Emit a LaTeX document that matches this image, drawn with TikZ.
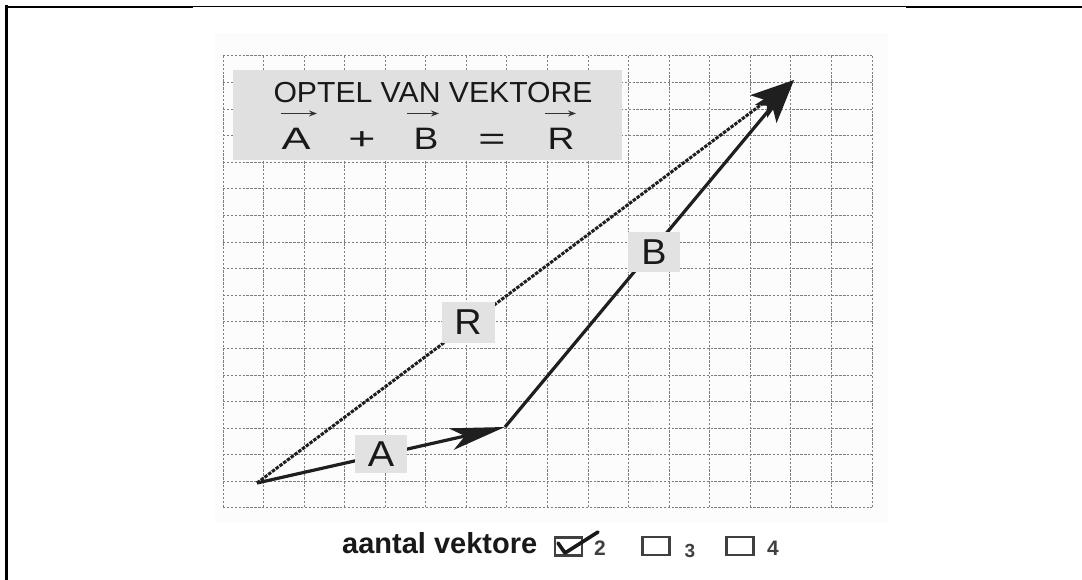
\documentclass[tikz,border=0pt]{standalone}
\usepackage{fontspec}
\setmainfont{Liberation Sans}
\usepackage{graphicx}
\usetikzlibrary{arrows.meta,calc}
\definecolor{boxgray}{HTML}{E2E2E2}
\definecolor{titlegray}{HTML}{E0E0E0}
\definecolor{gridgray}{HTML}{7E7E7E}
\definecolor{panel}{HTML}{FCFCFC}
\tikzset{
  gridline/.style={gridgray, line width=1pt, dash pattern=on 2.4pt off 1.5pt},
  vecline/.style={black!88, line width=3.2pt},
  rline/.style={black!88, line width=3pt, dash pattern=on 3.5pt off 1.2pt},
  lbl/.style={fill=boxgray, inner sep=0pt, font=\fontsize{36}{38}\selectfont, text=black!90},
  eqtxt/.style={inner sep=0pt, anchor=base, font=\fontsize{31}{34}\selectfont, text=black!90},
  ovarrow/.style={black!80, line width=1.6pt, -{Stealth[length=8pt,width=6pt]}},
  cbox/.style={draw=black!75, line width=2.6pt, minimum width=27pt, minimum height=18pt, inner sep=0pt},
  digit/.style={inner sep=0pt, text=black!75, font=\bfseries\fontsize{21}{23}\selectfont}
}
\begin{document}
\begin{tikzpicture}[x=1pt,y=-1pt]
\path[use as bounding box] (0,0) rectangle (1082,580);
% frame
\draw[line width=2.5pt] (6.5,5.5) -- (6.5,580);
\draw[line width=2.5pt] (5.3,7) -- (193,7);
\draw[line width=1pt] (193,6.5) -- (906,6.5);
\draw[line width=2.5pt] (906,7) -- (1082,7);
% faint panel
\fill[panel] (215,33) rectangle (888,523);
% grid
\foreach \i in {0,...,16} {
  \draw[gridline] ({223+40.5625*\i},56) -- ({223+40.5625*\i},508);
}
\foreach \j in {0,...,17} {
  \draw[gridline] (223,{56+26.588*\j}) -- (872,{56+26.588*\j});
}
% title box
\node[fill=titlegray, minimum width=389pt, minimum height=90pt, inner sep=0pt] (title) at (427.5,115) {};
\node[inner sep=0pt, anchor=base, font=\fontsize{29}{32}\selectfont, text=black!90] (ttl) at (433,103) {\scalebox{1.04}[1]{OPTEL VAN VEKTORE}};
\node[eqtxt] (eA) at (296,150) {\scalebox{1.4}[1]{A}};
\node[eqtxt] (ePlus) at (362,150) {\scalebox{1.5}[1]{+}};
\node[eqtxt] (eB) at (426,150) {\scalebox{1.2}[1]{B}};
\node[eqtxt] (eEq) at (492,150) {\scalebox{1.5}[1]{=}};
\node[eqtxt] (eR) at (561,150) {\scalebox{1.2}[1]{R}};
\draw[ovarrow] ([xshift=-15pt,yshift=15pt]eA.north) -- ([xshift=21pt,yshift=15pt]eA.north);
\draw[ovarrow] ([xshift=-19pt,yshift=15pt]eB.north) -- ([xshift=13pt,yshift=15pt]eB.north);
\draw[ovarrow] ([xshift=-16pt,yshift=15pt]eR.north) -- ([xshift=15pt,yshift=15pt]eR.north);
% vectors
\coordinate (O) at (257,483);
\coordinate (P) at (505,427);
\coordinate (Q) at (794,80);
\draw[rline, -{Stealth[length=44pt,width=28pt,inset=10pt]}] (O) -- (Q);
\draw[vecline, -{Stealth[length=44pt,width=28pt,inset=10pt]}] (P) -- (Q);
\draw[vecline, -{Stealth[length=55pt,width=22pt,inset=14pt]}] (O) -- (P);
% labels
\node[lbl, minimum width=52pt, minimum height=38pt] (lA) at (381,454) {\scalebox{1.1}[1]{A}};
\node[lbl, minimum width=53pt, minimum height=41pt] (lR) at (468,322) {\scalebox{1.05}[1]{R}};
\node[lbl, minimum width=52pt, minimum height=40pt] (lB) at (654,252) {\scalebox{1.05}[1]{B}};
% bottom controls
\node[inner sep=0pt, anchor=base west, font=\bfseries\fontsize{29}{32}\selectfont, text=black!90] (cap) at (342,553) {aantal vektore};
\node[cbox] (c2) at (568.5,546.5) {};
\node[digit] (d2) at (600,548) {2};
\node[cbox] (c3) at (656,546) {};
\node[digit, font=\bfseries\fontsize{19}{21}\selectfont] (d3) at (690,551) {3};
\node[cbox] (c4) at (740,546) {};
\node[digit] (d4) at (773,548) {4};
\draw[black!90, line width=3.6pt, line cap=round, line join=round] (558,543) -- (565,553) -- (598,532);
\end{tikzpicture}
\end{document}
